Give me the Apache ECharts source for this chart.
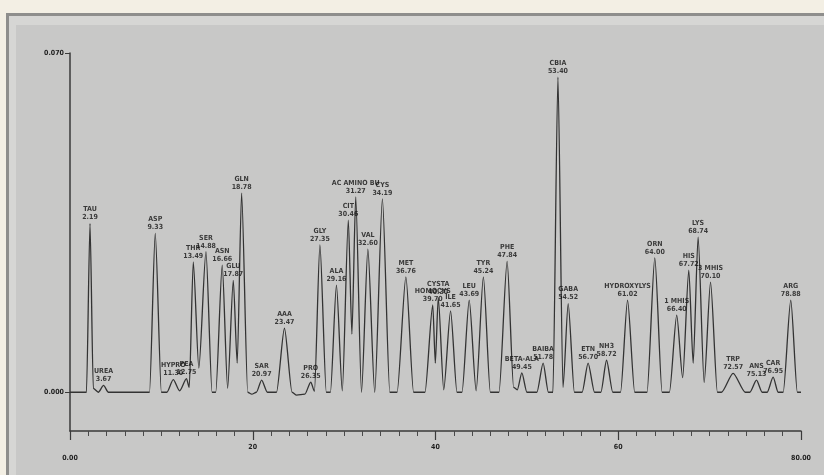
<!DOCTYPE html>
<html>
<head>
<meta charset="utf-8">
<script src="https://cdn.jsdelivr.net/npm/echarts@6/dist/echarts.min.js"></script>
<style>
  html, body { margin: 0; padding: 0; background: #f3efe4; }
  #frame { position: absolute; left: 6px; top: 13px; right: 0; bottom: 0;
           border-left: 3px solid #8e8e8c; border-top: 3px solid #8e8e8c; background: #d6d6d4; }
  #panel { position: absolute; left: 16px; top: 25px; right: 0; bottom: 0; background: #c8c8c7; }
  #main { position: absolute; left: 0; top: 0; width: 824px; height: 475px; }
</style>
</head>
<body>
<div id="frame"></div>
<div id="panel"></div>
<div id="main"></div>
<script>
// peak table (retention time in min, height in AU)
var peakNames = ['TAU', 'UREA', 'ASP', 'HYPRO', 'PEA', 'THR', 'SER', 'ASN', 'GLU', 'GLN',
  'SAR', 'AAA', 'PRO', 'GLY', 'ALA', 'CIT', 'AC AMINO BU', 'VAL', 'CYS', 'MET',
  'HOMOCYS', 'CYSTA', 'ILE', 'LEU', 'TYR', 'PHE', 'BETA-ALA', 'BAIBA', 'CBIA', 'GABA',
  'ETN', 'NH3', 'HYDROXYLYS', 'ORN', '1 MHIS', 'HIS', 'LYS', '3 MHIS', 'TRP', 'ANS',
  'CAR', 'ARG'];
var peakTimes = [2.19, 3.67, 9.33, 11.30, 12.75, 13.49, 14.88, 16.66, 17.87, 18.78,
  20.97, 23.47, 26.35, 27.35, 29.16, 30.46, 31.27, 32.60, 34.19, 36.76,
  39.70, 40.30, 41.65, 43.69, 45.24, 47.84, 49.45, 51.78, 53.40, 54.52,
  56.70, 58.72, 61.02, 64.00, 66.40, 67.72, 68.74, 70.10, 72.57, 75.13,
  76.95, 78.88];
var peakHeights = [0.0348, 0.0014, 0.0328, 0.0026, 0.0028, 0.0269, 0.0290, 0.0262, 0.0231, 0.0411,
  0.0025, 0.0132, 0.0021, 0.0304, 0.0221, 0.0355, 0.0403, 0.0295, 0.0399, 0.0238,
  0.0180, 0.0195, 0.0168, 0.0190, 0.0238, 0.0270, 0.0040, 0.0060, 0.0650, 0.0183,
  0.0060, 0.0066, 0.0190, 0.0277, 0.0159, 0.0252, 0.0320, 0.0227, 0.0039, 0.0025,
  0.0031, 0.0190];

// baseline / valley points of the trace [min, AU]
var valleys = [[0, 0], [1.80, 0], [2.55, 0.0008], [3.10, 0], [4.20, 0], [8.70, 0], [10.00, 0],
  [10.60, 0], [12.00, 0.0003], [13.05, 0.0010], [14.10, 0.0050], [15.55, 0], [15.95, 0],
  [17.25, 0.0008], [18.30, 0.0060], [19.45, 0], [19.90, -0.0004], [20.40, 0], [21.60, 0],
  [22.60, 0], [24.30, 0], [24.80, -0.0006], [25.70, -0.0004], [26.75, 0.0002], [28.05, 0],
  [28.50, 0], [29.80, 0.0003], [30.85, 0.0120], [31.90, 0], [33.35, 0], [35.00, 0],
  [35.80, 0], [37.60, 0], [38.85, 0], [39.98, 0.0060], [40.90, 0.0005], [42.35, 0],
  [42.90, 0], [44.45, 0.0003], [46.00, 0], [46.95, 0], [48.55, 0.0010], [48.95, 0.0005],
  [50.00, 0], [51.10, 0], [52.35, 0], [52.85, 0], [53.95, 0.0010], [55.20, 0], [56.05, 0],
  [57.40, 0], [58.10, 0], [59.40, 0], [60.25, 0], [61.80, 0], [63.15, 0], [64.80, 0],
  [65.60, 0], [67.05, 0.0030], [68.20, 0.0060], [69.40, 0.0020], [70.85, 0], [71.30, 0],
  [73.90, 0], [74.40, 0], [75.75, 0], [76.30, 0], [77.50, 0], [78.05, 0], [79.60, 0], [80, 0]];

var yTicks = [0, 0.07];

var apexes = peakTimes.map(function (t, i) { return [t, peakHeights[i], peakNames[i]]; });
var trace = apexes.map(function (p) { return [p[0], p[1]]; })
  .concat(valleys)
  .sort(function (a, b) { return a[0] - b[0]; });

var chart = echarts.init(document.getElementById('main'), null, { renderer: 'canvas' });

var labelFont = "'Liberation Sans Narrow', 'DejaVu Sans Condensed', sans-serif";

var option = {
  backgroundColor: 'transparent',
  animation: false,
  grid: { left: 70, right: 23, top: 53, bottom: 44 },
  xAxis: {
    type: 'value',
    min: 0,
    max: 80,
    interval: 20,
    axisLine: { show: true, onZero: false, lineStyle: { color: '#3a3a3a', width: 1.5 } },
    axisTick: { show: true, length: 9, lineStyle: { color: '#3a3a3a', width: 1.2 } },
    minorTick: { show: true, splitNumber: 10, length: 5, lineStyle: { color: '#4a4a4a', width: 1 } },
    splitLine: { show: false },
    axisLabel: {
      color: '#1e1e1e',
      fontSize: 7,
      fontWeight: 'bold',
      fontFamily: labelFont,
      margin: 13,
      showMinLabel: true,
      showMaxLabel: true,
      formatter: function (v) {
        if (v === 0) return '{e|0.00}';
        if (v === 80) return '{e|80.00}';
        return String(v);
      },
      rich: { e: { padding: [11, 0, 0, 0], fontSize: 7, fontWeight: 'bold', color: '#1e1e1e' } }
    }
  },
  yAxis: {
    type: 'value',
    min: -0.008,
    max: 0.07,
    axisLine: { show: true, lineStyle: { color: '#3a3a3a', width: 1.5 } },
    axisTick: { show: true, length: 5, customValues: yTicks, lineStyle: { color: '#3a3a3a' } },
    splitLine: { show: false },
    axisLabel: {
      customValues: yTicks,
      color: '#1e1e1e',
      fontSize: 7,
      fontWeight: 'bold',
      fontFamily: labelFont,
      margin: 6,
      formatter: function (v) { return v.toFixed(3); }
    }
  },
  series: [
    {
      type: 'line',
      data: trace,
      showSymbol: false,
      symbol: 'none',
      smooth: 0.25,
      smoothMonotone: 'x',
      lineStyle: { color: '#333333', width: 1.3 },
      z: 2
    },
    {
      type: 'scatter',
      data: apexes,
      symbolSize: 0,
      z: 3,
      label: {
        show: true,
        position: 'top',
        distance: 2,
        color: '#141414',
        fontSize: 7,
        fontWeight: 'bold',
        lineHeight: 8,
        fontFamily: labelFont,
        align: 'center',
        formatter: function (p) { return p.data[2] + '\n' + p.data[0].toFixed(2); }
      }
    }
  ]
};

chart.setOption(option);
</script>
</body>
</html>
